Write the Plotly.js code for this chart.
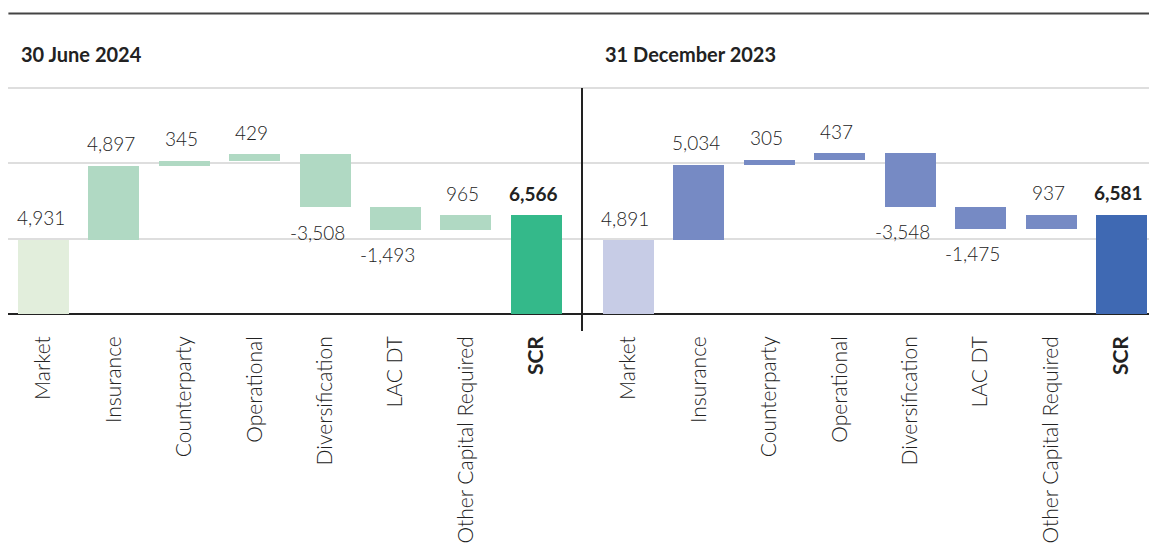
<!DOCTYPE html>
<html>
<head>
<meta charset="utf-8">
<script src="https://cdn.plot.ly/plotly-3.0.1.min.js"></script>
<style>
html,body{margin:0;padding:0;background:#fff;}
#chart{width:1149px;height:544px;}
</style>
</head>
<body>
<div id="chart"></div>
<script>
// ---- data ----
const categories = ["Market", "Insurance", "Counterparty", "Operational", "Diversification", "LAC DT", "Other Capital Required", "SCR"];
const tickLabels = ["Market", "Insurance", "Counterparty", "Operational", "Diversification", "LAC DT", "Other Capital Required", "<b>SCR</b>"];
const measures = ["absolute", "relative", "relative", "relative", "relative", "relative", "relative", "total"];
const valuesJun2024 = [4931, 4897, 345, 429, -3508, -1493, 965, 6566];
const valuesDec2023 = [4891, 5034, 305, 437, -3548, -1475, 937, 6581];
const panelTitles = ["30 June 2024", "31 December 2023"];

// ---- styles ----
const W = 1149, H = 544;
const greens = {first: "#e2eedc", mid: "#b0d9c3", last: "#34b98a"};
const blues  = {first: "#c7cce6", mid: "#768ac4", last: "#3f69b3"};
const FONT = "Lato, 'Open Sans', sans-serif";

function build(values, pal, xa, ya) {
  const base = [], y = [], colors = [], anns = [];
  let run = 0;
  values.forEach((v, i) => {
    const m = measures[i];
    let b, h;
    if (m === "absolute") { b = 0; h = v; run = v; }
    else if (m === "total") { b = 0; h = v; }
    else { b = run; h = v; run += v; }
    base.push(b); y.push(h);
    colors.push(m === "absolute" ? pal.first : (m === "total" ? pal.last : pal.mid));
    const txt = v.toLocaleString("en-US");
    anns.push({
      xref: xa, yref: ya, x: categories[i], y: b + h,
      text: m === "total" ? "<b>" + txt + "</b>" : txt,
      showarrow: false, xanchor: "center", yanchor: "middle",
      yshift: v >= 0 ? 22 : -25, xshift: v >= 0 ? -3 : -8,
      font: {family: FONT, size: 19, color: "#222", weight: m === "total" ? 700 : 300}
    });
  });
  const trace = {
    type: "bar", x: categories, y: y, base: base,
    xaxis: xa, yaxis: ya, width: 0.725,
    marker: {color: colors, line: {width: 0}},
    hoverinfo: "skip", showlegend: false
  };
  return {trace, anns};
}

const L = build(valuesJun2024, greens, "x", "y");
const R = build(valuesDec2023, blues, "x2", "y2");

const ydom = [(H - 314) / H, (H - 87) / H];
const divX = 582 / W;

const xcommon = {
  type: "category", categoryorder: "array", categoryarray: categories,
  tickvals: categories, ticktext: tickLabels,
  tickangle: -90, ticks: "", ticklabelstandoff: 17,
  tickfont: {family: FONT, size: 21, color: "#222", weight: 300},
  showgrid: false, zeroline: false, showline: false, fixedrange: true
};
const ycommon = {
  range: [0, 15070], dtick: 5000, tick0: 0, domain: ydom,
  showgrid: true, gridcolor: "#dedede", gridwidth: 2,
  zeroline: true, zerolinecolor: "#222", zerolinewidth: 2.5,
  showticklabels: false, ticks: "", showline: false, fixedrange: true
};

const layout = {
  width: W, height: H,
  margin: {l: 0, r: 0, t: 0, b: 0},
  paper_bgcolor: "#fff", plot_bgcolor: "#fff",
  bargap: 0,
  xaxis: Object.assign({}, xcommon, {domain: [8.4 / W, divX], range: [-0.5, 7.65], anchor: "y"}),
  xaxis2: Object.assign({}, xcommon, {domain: [divX, 1], range: [-0.66, 7.39], anchor: "y2"}),
  yaxis: Object.assign({}, ycommon, {anchor: "x"}),
  yaxis2: Object.assign({}, ycommon, {anchor: "x2"}),
  shapes: [
    {type: "line", xref: "paper", yref: "paper", x0: 8.4 / W, x1: 1, y0: (H - 13.5) / H, y1: (H - 13.5) / H,
     line: {color: "#444", width: 2}},
    {type: "line", xref: "paper", yref: "paper", x0: divX, x1: divX, y0: (H - 331) / H, y1: (H - 88) / H,
     line: {color: "#222", width: 2}}
  ],
  annotations: [
    {xref: "paper", yref: "paper", x: 19 / W, y: (H - 54) / H, xanchor: "left", yanchor: "middle",
     text: "<b>" + panelTitles[0] + "</b>", showarrow: false, font: {family: FONT, size: 20, color: "#222"}},
    {xref: "paper", yref: "paper", x: 603 / W, y: (H - 54) / H, xanchor: "left", yanchor: "middle",
     text: "<b>" + panelTitles[1] + "</b>", showarrow: false, font: {family: FONT, size: 20, color: "#222"}}
  ].concat(L.anns, R.anns)
};

Plotly.newPlot("chart", [L.trace, R.trace], layout, {displayModeBar: false, staticPlot: true});
</script>
</body>
</html>
